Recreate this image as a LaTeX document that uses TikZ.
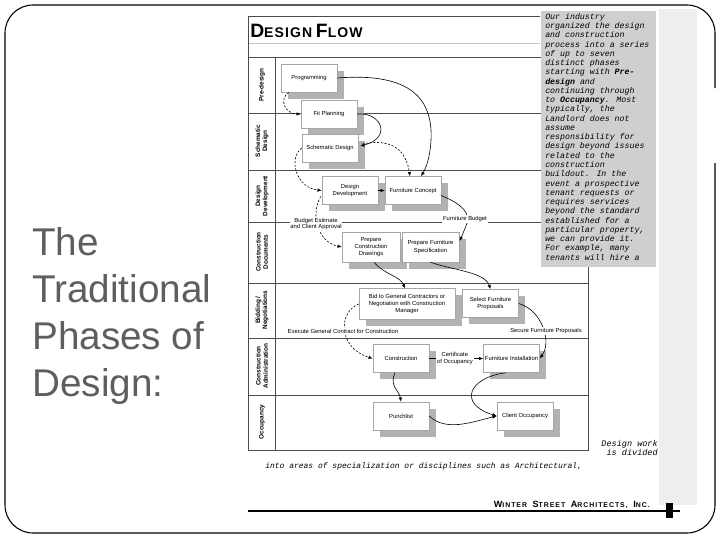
\documentclass[tikz,border=0pt]{standalone}
\usepackage{fontspec}
\setmainfont{Liberation Sans}
\newfontfamily\monofont{Liberation Mono}
\usetikzlibrary{arrows.meta,shadows,calc}
\definecolor{slidegray}{rgb}{0.37,0.37,0.37}
\begin{document}
\begin{tikzpicture}[x=0.75pt,y=-0.75pt,
  box/.style={draw=gray!70, line width=0.35pt, fill=white, inner sep=1pt, align=center,
    font=\fontsize{4.4}{5.3}\selectfont, minimum width=42pt, minimum height=21pt,
    drop shadow={shadow xshift=5pt, shadow yshift=-5pt, fill=gray!60, opacity=1}},
  lane/.style={rotate=90, align=center, font=\bfseries\fontsize{4.8}{5.4}\selectfont},
  conn/.style={line width=0.45pt, -{Latex[length=3.2pt,width=2.6pt]}},
  dconn/.style={conn, dash pattern=on 1.6pt off 1.2pt},
  lbl/.style={fill=white, inner sep=0.6pt, align=center, font=\fontsize{4.4}{5.2}\selectfont},
  sheetline/.style={draw=gray!60!black, line width=0.5pt},
  bigtxt/.style={anchor=base west, inner sep=0, text=slidegray, font=\fontsize{29}{35}\selectfont},
]
\useasboundingbox (0,0) rectangle (720,540);

% slide frame
\draw[line width=0.8pt, rounded corners=21pt] (715,163) -- (715,533) -- (5,533) -- (5,5) -- (715,5) -- (715,88);

% slide title
\node[bigtxt] (t1) at (32,255) {The};
\node[bigtxt] (t2) at (32,302) {Traditional};
\node[bigtxt] (t3) at (32,349) {Phases of};
\node[bigtxt] (t4) at (32,396) {Design:};

% light strip of the scanned page
\fill[gray!13] (659,9) rectangle (697,505);

% diagram sheet
\draw[sheetline] (248,16) -- (540,16);
\draw[gray!45, line width=0.3pt] (248,43) -- (540,43);
\draw[sheetline] (248,57) -- (588,57);
\foreach \yy in {113,170,222,283,338,395} \draw[sheetline] (248,\yy) -- (588,\yy);
\draw[sheetline] (248,16) -- (248,450) -- (588,450) -- (588,57);
\draw[sheetline] (275,57) -- (275,450);

\node[anchor=base west, inner sep=0, font=\bfseries] (title) at (250,37)
  {{\fontsize{14.5}{15}\selectfont D}{\fontsize{10.5}{11}\selectfont\addfontfeature{LetterSpace=8}ESIGN} {\fontsize{14.5}{15}\selectfont F}{\fontsize{10.5}{11}\selectfont\addfontfeature{LetterSpace=8}LOW}};

% lane labels
\node[lane] (l1) at (262,85) {Pre-design};
\node[lane] (l2) at (262,141) {Schematic\\Design};
\node[lane] (l3) at (262,196) {Design\\Development};
\node[lane] (l4) at (262,252) {Construction\\Documents};
\node[lane] (l5) at (262,310) {Bidding /\\Negotiations};
\node[lane] (l6) at (262,366) {Construction\\Administration};
\node[lane] (l7) at (262,422) {Occupancy};

% boxes
\node[box] (prog) at (309,78) {Programming};
\node[box] (fit) at (329,114) {Fit Planning};
\node[box] (sch) at (330,148) {Schematic Design};
\node[box] (dd) at (350,190.5) {Design\\Development};
\node[box] (fc) at (413,190.5) {Furniture Concept};
\node[box, minimum width=43.5pt, minimum height=22.5pt] (pcd) at (371,247) {Prepare\\Construction\\Drawings};
\node[box, minimum width=43pt, minimum height=22.5pt] (pfs) at (430.5,247) {Prepare Furniture\\Specification};
\node[box, minimum width=72pt, minimum height=23pt] (bid) at (407,304) {Bid to General Contractors or\\Negotiation with Construction\\Manager};
\node[box] (sfp) at (490.5,303.5) {Select Furniture\\Proposals};
\node[box] (con) at (401,358.5) {Construction};
\node[box] (fi) at (511.5,358.5) {Furniture Installation};
\node[box] (pun) at (401,416) {Punchlist};
\node[box] (co) at (525,416) {Client Occupancy};

% connectors
\draw[dconn] ($(prog.south west)+(8,0)$) .. controls (278,100) and (286,114) .. (fit.west);
\draw[conn] (prog.east) .. controls (412,72) and (433,100) .. (431,140) .. controls (430,158) and (426,168) .. ($(fc.north)+(8,0)$);
\draw[conn] (fit.east) .. controls (382,112) and (392,138) .. ($(sch.east)+(2,-2)$);
\draw[dconn] ($(sch.east)+(4,-4)$) .. controls (392,138) and (406,150) .. ($(fc.north)+(-3,0)$);
\draw[dconn] (sch.west) .. controls (288,158) and (296,188) .. (dd.west);
\draw[conn] (dd.east) -- (fc.west);
\draw[dconn] ($(dd.west)+(-1,6)$) .. controls (310,215) and (318,242) .. (pcd.west);
\node[lbl] (bud) at (316,224) {Budget Estimate\\and Client Approval};
\draw[conn] ($(fc.east)+(0,5)$) .. controls (462,204) and (472,214) .. (466,226) .. controls (463,233) and (462,236) .. ($(pfs.east)+(0,-6)$);
\node[lbl] (fb) at (465,219) {Furniture Budget};
\draw[conn] ($(pcd.south)+(3,0)$) .. controls (385,275) and (400,276) .. ($(bid.north)+(-2,0)$);
\draw[conn] (pfs.south) .. controls (452,270) and (485,272) .. (sfp.north);
\draw[dconn] (bid.west) .. controls (338,312) and (338,348) .. (con.west);
\node[lbl] (ex) at (343,331) {Execute General Contract for Construction};
\draw[conn] (sfp.east) .. controls (542,310) and (552,342) .. (fi.east);
\node[lbl] (sec) at (546,331) {Secure Furniture Proposals};
\draw[conn] (con.east) -- (fi.west) node[lbl, midway, xshift=-1pt] (cert) {Certificate\\of Occupancy};
\draw[conn] ($(con.south)+(-6,0)$) .. controls (389,386) and (399,390) .. (pun.north);
\draw[conn] ($(fi.south)+(-6,0)$) .. controls (468,378) and (458,404) .. (co.west);
\draw[conn] (pun.east) .. controls (446,432) and (472,422) .. (co.west);

% grey text column
\fill[gray!38] (541,11) rectangle (656,267);
\begin{scope}
\clip (541,11) rectangle (656,267);
\node[anchor=north west, inner sep=0, align=left, font=\monofont\itshape\fontsize{6.2}{6.95}\selectfont] (col) at (545,13)
{Our industry\\organized the design\\and construction\\process into a series\\of up to seven\\distinct phases\\starting with \textbf{Pre-}\\\textbf{design} and\\continuing through\\to \textbf{Occupancy}. Most\\typically, the\\Landlord does not\\assume\\responsibility for\\design beyond issues\\related to the\\construction\\buildout. In the\\event a prospective\\tenant requests or\\requires services\\beyond the standard\\established for a\\particular property,\\we can provide it.\\For example, many\\tenants will hire a};
\end{scope}

% lower typewriter text
\node[anchor=base east, inner sep=0, font=\monofont\itshape\fontsize{6.4}{7}\selectfont] (dw1) at (658,446) {Design work};
\node[anchor=base east, inner sep=0, font=\monofont\itshape\fontsize{6.4}{7}\selectfont] (dw2) at (658,455) {is divided};
\node[anchor=base west, inner sep=0, font=\monofont\itshape\fontsize{6}{7}\selectfont] (dw3) at (265,468) {into areas of specialization or disciplines such as Architectural,};

% footer
\draw[line width=1.2pt] (248,511) -- (680,511);
\fill (666,503) rectangle (673,518);
\node[anchor=base east, inner sep=0, font=\bfseries\addfontfeature{LetterSpace=14}] (firm) at (650,507)
  {{\fontsize{6.8}{7}\selectfont W}{\fontsize{5.2}{6}\selectfont INTER} {\fontsize{6.8}{7}\selectfont S}{\fontsize{5.2}{6}\selectfont TREET} {\fontsize{6.8}{7}\selectfont A}{\fontsize{5.2}{6}\selectfont RCHITECTS,} {\fontsize{6.8}{7}\selectfont I}{\fontsize{5.2}{6}\selectfont NC.}};
\end{tikzpicture}
\end{document}
